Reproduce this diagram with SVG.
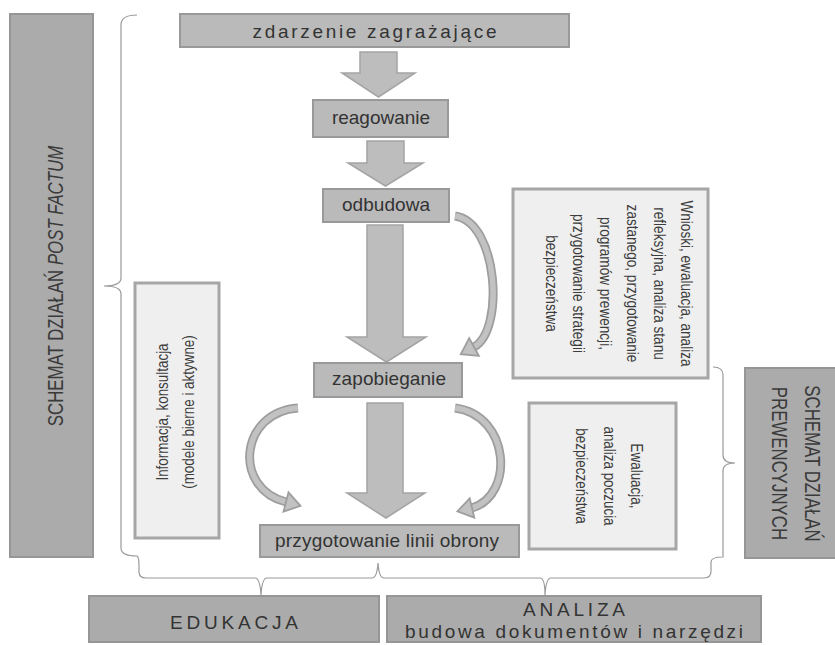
<svg xmlns="http://www.w3.org/2000/svg" width="835" height="645" viewBox="0 0 835 645">
<style>
  .bar { fill: #ababab; stroke: #969696; stroke-width: 2; }
  .node { fill: #bababa; stroke: #999999; stroke-width: 2; }
  .note { fill: #efefef; stroke: #a6a6a6; stroke-width: 3; }
  .block { fill: #bdbdbd; stroke: #a4a4a4; stroke-width: 1.5; stroke-linejoin: miter; }
  .c-out { fill: none; stroke: #9e9e9e; stroke-width: 9; }
  .c-in { fill: none; stroke: #c2c2c2; stroke-width: 5.5; }
  .head { fill: #c2c2c2; stroke: #9e9e9e; stroke-width: 1.8; stroke-linejoin: miter; }
  .brace { fill: none; stroke: #999999; stroke-width: 1.2; }
  text { font-family: "Liberation Sans", Arial, sans-serif; fill: #333333; }
  .nt { font-size: 19px; text-anchor: middle; }
  .bt { font-size: 22px; text-anchor: middle; fill: #3a3a3a; }
  .lt { font-size: 17px; text-anchor: middle; fill: #3c3c3c; }
</style>

<g id="braces">
  <path class="brace" d="M137,15 Q121,15 121,25 L121,278 Q121,286 104,286 Q121,286 121,294 L121,548 Q121,556 137,556 Q139,557 139,566 L139,572 Q139,578 146,578 L255,578 Q260,578 261,595 Q262,578 267,578 L372,578 Q377,578 378,563 Q379,578 384,578 L540,578 Q545,578 545,595 Q546,578 551,578 L704,578 Q711,578 711,571 L711,562 Q711,557 723,557 L723,471 Q723,463 735,463 Q723,463 723,455 L723,375 Q723,367 713,367"/>
</g>

<g id="connectors">
  <polygon class="block" points="360,52 397,52 397,73 415,73 378.5,97 342,73 360,73"/>
  <polygon class="block" points="367,141 404,141 404,163 423,163 385.5,186 348,163 367,163"/>
  <polygon class="block" points="367,225 403,225 403,337 426,337 386.5,362 347,337 367,337"/>
  <polygon class="block" points="367,403 403,403 403,493 425,493 386,518 347,493 367,493"/>

  <path class="c-out" d="M455,216 C498,222 505,330 474,347"/>
  <path class="c-in" d="M455,216 C498,222 505,330 474,347"/>
  <polygon class="head" points="478.8,355.8 460.8,354.2 469.2,338.2"/>

  <path class="c-out" d="M298,408 C240,412 232,488 286,502"/>
  <path class="c-in" d="M298,408 C240,412 232,488 286,502"/>
  <polygon class="head" points="283.5,511.7 300.5,505.8 288.5,492.3"/>

  <path class="c-out" d="M455,408 C510,415 515,495 472,508"/>
  <path class="c-in" d="M455,408 C510,415 515,495 472,508"/>
  <polygon class="head" points="474.3,517.7 457.4,511.4 469.7,498.3"/>
</g>

<g id="post-factum">
  <rect class="bar" x="10" y="14" width="83" height="543"/>
  <text class="bt" transform="translate(63,286) rotate(-90) scale(0.765,1)">SCHEMAT DZIAŁAŃ <tspan font-style="italic">POST FACTUM</tspan></text>
</g>

<g id="zdarzenie">
  <rect class="node" x="180" y="14" width="389" height="33"/>
  <text class="nt" x="374.5" y="38" font-size="22" textLength="244" lengthAdjust="spacing">zdarzenie zagrażające</text>
</g>

<g id="reagowanie">
  <rect class="node" x="313" y="100" width="135" height="37"/>
  <text class="nt" x="381" y="124" textLength="98" lengthAdjust="spacing">reagowanie</text>
</g>

<g id="odbudowa">
  <rect class="node" x="323" y="189" width="126" height="33"/>
  <text class="nt" x="386" y="211" textLength="88" lengthAdjust="spacing">odbudowa</text>
</g>

<g id="zapobieganie">
  <rect class="node" x="314" y="363" width="148" height="34"/>
  <text class="nt" x="389" y="385" textLength="114" lengthAdjust="spacing">zapobieganie</text>
</g>

<g id="przygotowanie">
  <rect class="node" x="260" y="525" width="259" height="32"/>
  <text class="nt" x="387" y="547" textLength="224" lengthAdjust="spacing">przygotowanie linii obrony</text>
</g>

<g id="informacja">
  <rect class="note" x="135" y="283" width="84" height="255"/>
  <g transform="translate(181,412) rotate(-90) scale(0.79,1)">
    <text class="lt" x="0" y="-13">Informacja, konsultacja</text>
    <text class="lt" x="0" y="13">(modele bierne i aktywne)</text>
  </g>
</g>

<g id="wnioski">
  <rect class="note" x="513" y="189" width="195" height="189"/>
  <g transform="translate(613.5,283.5) rotate(90) scale(0.8,1)">
    <text class="lt" x="0" y="-67.5">Wnioski, ewaluacja, analiza</text>
    <text class="lt" x="0" y="-40.5">refleksyjna, analiza stanu</text>
    <text class="lt" x="0" y="-13.5">zastanego, przygotowanie</text>
    <text class="lt" x="0" y="13.5">programów prewencji,</text>
    <text class="lt" x="0" y="40.5">przygotowanie strategii</text>
    <text class="lt" x="0" y="67.5">bezpieczeństwa</text>
  </g>
</g>

<g id="ewaluacja">
  <rect class="note" x="529" y="403" width="147" height="146"/>
  <g transform="translate(603.5,476) rotate(90) scale(0.79,1)">
    <text class="lt" x="0" y="-27.5">Ewaluacja,</text>
    <text class="lt" x="0" y="0">analiza poczucia</text>
    <text class="lt" x="0" y="27.5">bezpieczeństwa</text>
  </g>
</g>

<g id="prewencyjne">
  <rect class="bar" x="745" y="368" width="92" height="190"/>
  <g transform="translate(788,463.5) rotate(90) scale(0.765,1)">
    <text class="bt" x="0" y="-17">SCHEMAT DZIAŁAŃ</text>
    <text class="bt" x="0" y="16">PREWENCYJNYCH</text>
  </g>
</g>

<g id="edukacja">
  <rect class="bar" x="89" y="596" width="290" height="46"/>
  <text class="nt" x="234" y="629" font-size="20" textLength="128" lengthAdjust="spacing">EDUKACJA</text>
</g>

<g id="analiza">
  <rect class="bar" x="387" y="596" width="374" height="46"/>
  <text class="nt" x="574" y="616" font-size="18" textLength="102" lengthAdjust="spacing">ANALIZA</text>
  <text class="nt" x="574" y="638" font-size="19" textLength="338" lengthAdjust="spacing">budowa dokumentów i narzędzi</text>
</g>
</svg>
